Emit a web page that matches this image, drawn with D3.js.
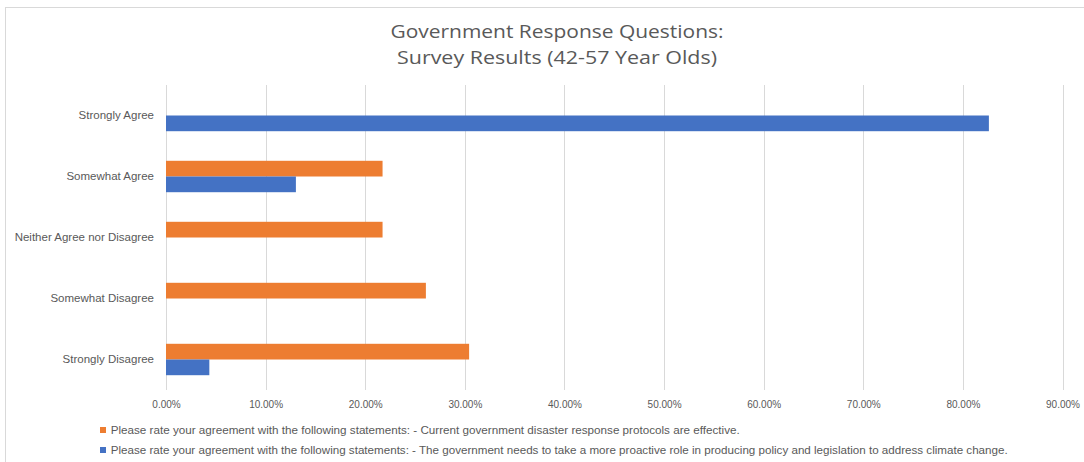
<!DOCTYPE html>
<html>
<head>
<meta charset="utf-8">
<script src="https://cdn.jsdelivr.net/npm/d3@7"></script>
<style>
  html, body { margin: 0; padding: 0; background: #fff; }
  svg { display: block; }
  text { font-family: "Liberation Sans", "DejaVu Sans", sans-serif; fill: #595959; }
</style>
</head>
<body>
<svg id="chart" width="1084" height="462"></svg>
<script>
const categories = ["Strongly Agree", "Somewhat Agree", "Neither Agree nor Disagree", "Somewhat Disagree", "Strongly Disagree"];
const seriesNames = [
  "Please rate your agreement with the following statements: - Current government disaster response protocols are effective.",
  "Please rate your agreement with the following statements: - The government needs to take a more proactive role in producing policy and legislation to address climate change."
];
const protocolsEffective = [0, 0.2174, 0.2174, 0.2609, 0.3043];
const proactiveRole = [0.8261, 0.1304, 0, 0, 0.0435];
const xTicks = [0, 0.1, 0.2, 0.3, 0.4, 0.5, 0.6, 0.7, 0.8, 0.9];
const titleLines = ["Government Response Questions:", "Survey Results (42-57 Year Olds)"];

const colors = ["#ED7D31", "#4472C4"];
const seriesValues = [protocolsEffective, proactiveRole];

const svg = d3.select("#chart");

// outer border
svg.append("rect")
  .attr("x", 5.5).attr("y", 7.5)
  .attr("width", 1100).attr("height", 470)
  .attr("fill", "none").attr("stroke", "#d9d9d9").attr("stroke-width", 1);

// title
const titleG = svg.append("g");
titleG.selectAll("text").data(titleLines).enter().append("text")
  .attr("x", 557)
  .attr("y", (d, i) => 38 + i * 26)
  .attr("text-anchor", "middle")
  .attr("font-size", 19)
  .style("font-family", '"Open Sans", sans-serif')
  .attr("textLength", (d, i) => i === 0 ? 333 : 320)
  .attr("lengthAdjust", "spacingAndGlyphs")
  .text(d => d);

const plotTop = 85, plotBottom = 390;
const x = d3.scaleLinear().domain([0, 0.9]).range([166, 1062.5]);
const y = d3.scaleBand().domain(categories).range([plotTop, plotBottom])
  .paddingInner(0.485).paddingOuter(0.2425);
const ySub = d3.scaleBand().domain([0, 1]).range([0, y.bandwidth()]);

// gridlines
svg.append("g").selectAll("line").data(xTicks).enter().append("line")
  .attr("x1", d => Math.round(x(d)) + 0.5).attr("x2", d => Math.round(x(d)) + 0.5)
  .attr("y1", plotTop).attr("y2", plotBottom)
  .attr("stroke", "#d9d9d9").attr("stroke-width", 1);

// bars
const barData = [];
categories.forEach((c, ci) => {
  seriesValues.forEach((vals, si) => {
    barData.push({ cat: c, s: si, v: vals[ci] });
  });
});
svg.append("g").selectAll("rect").data(barData.filter(d => d.v > 0)).enter().append("rect")
  .attr("x", x(0))
  .attr("y", d => y(d.cat) + ySub(d.s))
  .attr("width", d => x(d.v) - x(0))
  .attr("height", ySub.bandwidth())
  .attr("fill", d => colors[d.s]);

// x axis labels
const xAxis = d3.axisBottom(x).tickValues(xTicks).tickFormat(d3.format(".2%")).tickSize(0).tickPadding(0);
const xg = svg.append("g").attr("transform", `translate(0,${401})`).call(xAxis);
xg.select(".domain").remove();
xg.selectAll("text").attr("font-size", 10).attr("fill", "#595959")
  .style("font-family", '"Liberation Sans", sans-serif');

// y axis labels
const yAxis = d3.axisLeft(y).tickSize(0).tickPadding(0);
const yg = svg.append("g").attr("transform", `translate(154,0)`).call(yAxis);
yg.select(".domain").remove();
yg.selectAll("text").attr("font-size", 11.5).attr("fill", "#595959")
  .style("font-family", '"Liberation Sans", sans-serif');

// legend
const legend = svg.append("g");
const legendWidths = [629, 897];
const lg = legend.selectAll("g").data(seriesNames).enter().append("g")
  .attr("transform", (d, i) => `translate(100,${430 + i * 20})`);
lg.append("rect").attr("x", 0).attr("y", -3).attr("width", 6).attr("height", 6)
  .attr("fill", (d, i) => colors[i]);
lg.append("text").attr("x", 10.7).attr("y", 3.5)
  .attr("font-size", 10)
  .attr("textLength", (d, i) => legendWidths[i])
  .attr("lengthAdjust", "spacingAndGlyphs")
  .text(d => d);
</script>
</body>
</html>
